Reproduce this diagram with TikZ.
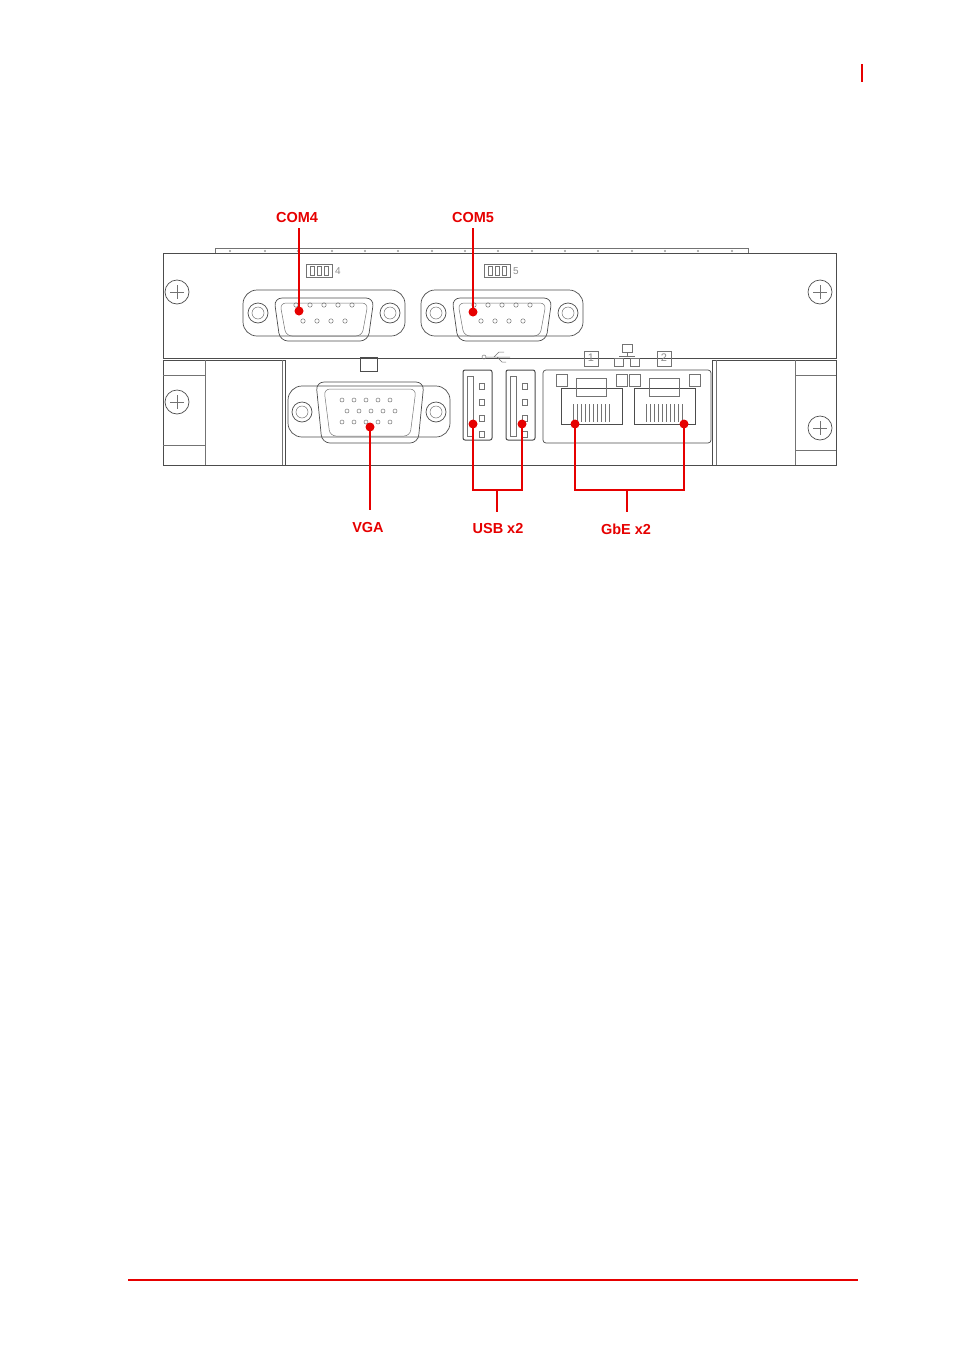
\documentclass[tikz,border=0pt]{standalone}
\usepackage{fontspec}
\setmainfont{Liberation Sans}
\definecolor{callred}{RGB}{230,0,0}
\begin{document}
\begin{tikzpicture}[x=1pt,y=-1pt]
\tikzset{
  part/.style={draw=black!70,line width=0.7pt},
  thin/.style={draw=black!55,line width=0.5pt},
  callout/.style={draw=callred,line width=1.6pt},
  dot/.style={circle,fill=callred,inner sep=0pt,minimum size=9pt},
  lbl/.style={text=callred,font=\bfseries\fontsize{14.5}{16}\selectfont},
}
\useasboundingbox (0,0) rectangle (954,1352);
% header and footer marks
\draw [callred,line width=1.2pt] (862,64) -- (862,82);
\draw [callred,line width=1.2pt] (128,1280) -- (858,1280);
% panel
\draw [thin] (215,248) rectangle (748,253);
\foreach \x in {230,265,298,332,365,398,432,465,498,532,565,598,632,665,698,732}
  \fill [black!40] (\x,251) circle (1.2);
\draw [part] (163,253) rectangle (836,358);
\draw [part] (163,360) rectangle (285,465);
\draw [thin] (205,360) -- (205,465) (282,360) -- (282,465) (163,375) -- (205,375) (163,445) -- (205,445);
\draw [part] (712,360) rectangle (836,465);
\draw [thin] (716,360) -- (716,465) (795,360) -- (795,465) (795,375) -- (836,375) (795,450) -- (836,450);
\draw [part] (285,465) -- (712,465);
% screws
\foreach \sx/\sy in {177/292,820/292,177/402,820/428}{
  \draw [part] (\sx,\sy) circle (12);
  \draw [thin] (\sx-7,\sy) -- (\sx+7,\sy) (\sx,\sy-7) -- (\sx,\sy+7);
}
% serial ports
\foreach \cx/\num in {324/4,502/5}{
  \draw [part,rounded corners=14pt] (\cx-81,290) rectangle (\cx+81,336);
  \draw [part,rounded corners=8pt] (\cx-50,298) -- (\cx+50,298) -- (\cx+44,341) -- (\cx-44,341) -- cycle;
  \draw [thin,rounded corners=6pt] (\cx-44,303) -- (\cx+44,303) -- (\cx+38,336) -- (\cx-38,336) -- cycle;
  \foreach \hx in {-66,66}{\draw [part] (\cx+\hx,313) circle (10); \draw [thin] (\cx+\hx,313) circle (6);}
  \foreach \i in {0,...,4} \draw [thin] (\cx-28+\i*14,305) circle (2.2);
  \foreach \i in {0,...,3} \draw [thin] (\cx-21+\i*14,321) circle (2.2);
  \draw [thin] (\cx-18,264) rectangle (\cx+8,277);
  \foreach \i in {0,1,2} \draw [thin] (\cx-14+\i*7,266) rectangle (\cx-10+\i*7,275);
  \node [text=black!45,font=\fontsize{10}{12}\selectfont] at (\cx+14,271) {\num};
}
% VGA
\draw [part] (360,357) rectangle (377,371);
\draw [part,rounded corners=14pt] (288,386) rectangle (450,437);
\draw [part,rounded corners=8pt] (316,382) -- (424,382) -- (418,443) -- (322,443) -- cycle;
\draw [thin,rounded corners=6pt] (324,389) -- (416,389) -- (410,436) -- (330,436) -- cycle;
\foreach \hx in {302,436}{\draw [part] (\hx,412) circle (10); \draw [thin] (\hx,412) circle (6);}
\foreach \i in {0,...,4} {\draw [thin] (342+\i*12,400) circle (2); \draw [thin] (347+\i*12,411) circle (2); \draw [thin] (342+\i*12,422) circle (2);}
% USB
\draw [thin] (484,357) circle (2) (486,357) -- (510,357) (494,357) -- (499,352) -- (504,352) (497,357) -- (502,362) -- (506,362);
\foreach \ux in {463,506}{
  \draw [part,line width=1pt,rounded corners=2pt] (\ux,370) rectangle (\ux+29,440);
  \draw [thin] (\ux+4,376) rectangle (\ux+10,436);
  \foreach \i in {0,...,3} \draw [thin] (\ux+16,383+\i*16) rectangle (\ux+21,389+\i*16);
}
% LAN
\draw [part,rounded corners=3pt] (543,370) rectangle (711,443);
\foreach \lx/\n in {561/1,634/2}{
  \draw [part] (\lx,388) rectangle (\lx+61,424);
  \draw [thin] (\lx+15,378) rectangle (\lx+45,396);
  \draw [thin] (\lx-5,374) rectangle (\lx+6,386) (\lx+55,374) rectangle (\lx+66,386);
  \foreach \i in {0,...,9} \draw [thin] (\lx+12+\i*4,404) -- (\lx+12+\i*4,422);
  \draw [thin] (\lx+23,351) rectangle (\lx+37,366);
  \node [text=black!45,font=\fontsize{11}{12}\selectfont] at (\lx+30,358) {\n};
}
\draw [thin] (622,344) rectangle (632,352) (627,352) -- (627,356) (619,356) -- (635,356) (614,358) rectangle (623,366) (630,358) rectangle (639,366);
% callouts
\node [lbl] (com4) at (297,218) {COM4};
\node [lbl] (com5) at (473,218) {COM5};
\node [lbl] (vga) at (368,528) {VGA};
\node [lbl] (usb) at (498,529) {USB x2};
\node [lbl] (gbe) at (626,529) {GbE x2};
\node [dot] (pc4) at (299,311) {};
\node [dot] (pc5) at (473,312) {};
\node [dot] (pvga) at (370,427) {};
\node [dot] (pu1) at (473,424) {};
\node [dot] (pu2) at (522,424) {};
\node [dot] (pl1) at (575,424) {};
\node [dot] (pl2) at (684,424) {};
\draw [callout] (299,228) -- (pc4.center);
\draw [callout] (473,228) -- (pc5.center);
\draw [callout] (pvga.center) -- (370,510);
\draw [callout] (pu1.center) -- (473,490) -| (pu2.center);
\draw [callout] (497,490) -- (497,512);
\draw [callout] (pl1.center) -- (575,490) -| (pl2.center);
\draw [callout] (627,490) -- (627,512);
\end{tikzpicture}
\end{document}
